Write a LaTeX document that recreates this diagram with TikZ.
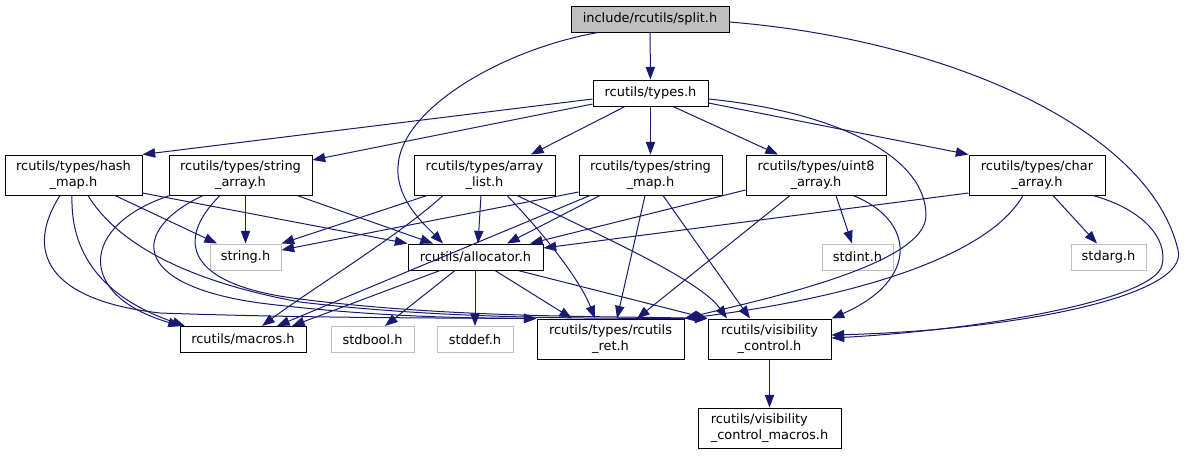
\documentclass[tikz,border=0pt]{standalone}
\usepackage{fontspec}
\setmainfont{DejaVu Sans}
\usetikzlibrary{arrows.meta}
\definecolor{edgec}{HTML}{191970}
\definecolor{grayb}{HTML}{BFBFBF}
\definecolor{rootf}{HTML}{BFBFBF}
\begin{document}
\begin{tikzpicture}[x=0.75pt,y=-0.75pt,
  box/.style={draw=black,line width=0.75pt,inner sep=0pt,font=\fontsize{9.7pt}{12pt}\selectfont,align=center},
  ext/.style={box,draw=grayb},
  root/.style={box,fill=rootf},
  bw/.style={minimum width=#1*0.75pt},
  bh/.style={minimum height=#1*0.75pt},
  dep/.style={draw=edgec,line width=0.75pt,-{Triangle[length=9.5pt,width=7pt]}}]
\useasboundingbox (0,0) rectangle (1187,455);
% nodes
\node[root,bw=158,bh=26] (split) at (650,19) {include/rcutils/split.h};
\node[box,bw=115,bh=26] (types) at (650.5,93) {rcutils/types.h};
\node[box,bw=137,bh=40] (hash) at (73.5,175) {rcutils/types/hash\\\_map.h};
\node[box,bw=143,bh=40] (sarr) at (240.5,175) {rcutils/types/string\\\_array.h};
\node[box,bw=141,bh=40] (alist) at (484.5,175) {rcutils/types/array\\\_list.h};
\node[box,bw=143,bh=40] (smap) at (650.5,175) {rcutils/types/string\\\_map.h};
\node[box,bw=140,bh=40] (u8) at (816,175) {rcutils/types/uint8\\\_array.h};
\node[box,bw=136,bh=40] (carr) at (1037,175) {rcutils/types/char\\\_array.h};
\node[ext,bw=71,bh=26] (strh) at (245.5,257) {string.h};
\node[box,bw=135,bh=26] (alloc) at (475.5,257) {rcutils/allocator.h};
\node[ext,bw=71,bh=26] (stdint) at (857.5,257) {stdint.h};
\node[ext,bw=75,bh=26] (stdarg) at (1108.5,257) {stdarg.h};
\node[box,bw=126,bh=26] (macros) at (243,339.5) {rcutils/macros.h};
\node[ext,bw=83,bh=26] (stdbool) at (372.5,339.5) {stdbool.h};
\node[ext,bw=76,bh=26] (stddef) at (475,339.5) {stddef.h};
\node[box,bw=147,bh=40] (ret) at (610.5,339) {rcutils/types/rcutils\\\_ret.h};
\node[box,bw=123,bh=40] (vis) at (769.5,339) {rcutils/visibility\\\_control.h};
\node[box,bw=143,bh=40,align=left] (vism) at (769.5,428) {rcutils/visibility\\\_control\_macros.h};
% split.h
\draw[dep] (split) -- (types);
\draw[dep] (split.south -| 598,0) .. controls (500,50) and (400,110) .. (398,167) .. controls (396,200) and (425,225) .. (alloc.north -| 443,0);
\draw[dep] (split.east |- 0,22) .. controls (950,40) and (1150,130) .. (1178,250) .. controls (1190,295) and (1020,330) .. (vis.east |- 0,335);
% types.h
\draw[dep] (types.west |- 0,99) -- (hash.north east);
\draw[dep] (types.west |- 0,104) -- (sarr.east |- 0,160);
\draw[dep] (types.south -| 625,0) -- (alist.north -| 531,0);
\draw[dep] (types.south -| 650.5,0) -- (smap.north -| 650.5,0);
\draw[dep] (types.south -| 673,0) -- (u8.north -| 778,0);
\draw[dep] (types.east |- 0,103) -- (carr.north west);
\draw[dep] (types.east |- 0,99) .. controls (820,110) and (925,150) .. (926,215) .. controls (927,265) and (760,300) .. (ret.north east);
% hash_map
\draw[dep] (hash.south -| 115,0) -- (strh.north -| 217,0);
\draw[dep] (hash.east |- 0,193) -- (alloc.north west);
\draw[dep] (hash.south -| 72,0) .. controls (70,260) and (110,300) .. (macros.north -| 185,0);
\draw[dep] (hash.south -| 60,0) .. controls (25,250) and (45,300) .. (160,313) .. controls (300,318) and (450,318) .. (ret.north west);
\draw[dep] (hash.south -| 88,0) .. controls (115,240) and (180,280) .. (300,302) .. controls (450,320) and (600,318) .. (vis.north west);
% string_array
\draw[dep] (sarr.south -| 245.5,0) -- (strh.north -| 245.5,0);
\draw[dep] (sarr.south -| 297,0) -- (alloc.north -| 433,0);
\draw[dep] (sarr.south -| 170,0) .. controls (80,225) and (75,295) .. (macros.north -| 181,0);
\draw[dep] (sarr.south -| 203,0) .. controls (130,230) and (130,285) .. (260,303) .. controls (380,318) and (480,318) .. (ret.north west);
\draw[dep] (sarr.south -| 220,0) .. controls (175,240) and (185,285) .. (300,299) .. controls (450,318) and (600,316) .. (vis.north west);
% array_list
\draw[dep] (alist.south -| 427,0) -- (strh.north east);
\draw[dep] (alist.south -| 481,0) -- (alloc.north -| 478,0);
\draw[dep] (alist.south -| 443,0) .. controls (400,235) and (310,290) .. (macros.north -| 262,0);
\draw[dep] (alist.south -| 507,0) .. controls (545,235) and (580,280) .. (ret.north -| 595,0);
\draw[dep] (alist.south -| 517,0) .. controls (600,235) and (700,280) .. (vis.north -| 727,0);
% string_map
\draw[dep] (smap.west |- 0,192) -- (strh.east |- 0,250);
\draw[dep] (smap.south -| 600,0) -- (alloc.north -| 507,0);
\draw[dep] (smap.south -| 590,0) -- (macros.north -| 277,0);
\draw[dep] (smap.south -| 645,0) -- (ret.north -| 617,0);
\draw[dep] (smap.south -| 663,0) -- (vis.north -| 750,0);
% uint8_array
\draw[dep] (u8.west |- 0,190) -- (alloc.north -| 530,0);
\draw[dep] (u8.south -| 790,0) -- (ret.north -| 637,0);
\draw[dep] (u8.south -| 836,0) -- (stdint.north -| 852,0);
\draw[dep] (u8.south -| 853,0) .. controls (915,220) and (920,280) .. (vis.north east);
% char_array
\draw[dep] (carr.west |- 0,193) -- (alloc.east |- 0,248);
\draw[dep] (carr.south -| 1023,0) .. controls (980,270) and (800,305) .. (ret.north east);
\draw[dep] (carr.south -| 1053,0) -- (stdarg.north -| 1097,0);
\draw[dep] (carr.south -| 1093,0) .. controls (1145,210) and (1168,240) .. (1162,265) .. controls (1155,300) and (980,330) .. (vis.east |- 0,338);
% allocator
\draw[dep] (alloc.south -| 440,0) -- (macros.north -| 292,0);
\draw[dep] (alloc.south -| 455,0) -- (stdbool.north -| 385,0);
\draw[dep] (alloc.south -| 475,0) -- (stddef.north -| 475,0);
\draw[dep] (alloc.south -| 495,0) -- (ret.north -| 572,0);
\draw[dep] (alloc.south -| 518,0) -- (vis.north west);
% visibility_control
\draw[dep] (vis) -- (vism);
\end{tikzpicture}
\end{document}
